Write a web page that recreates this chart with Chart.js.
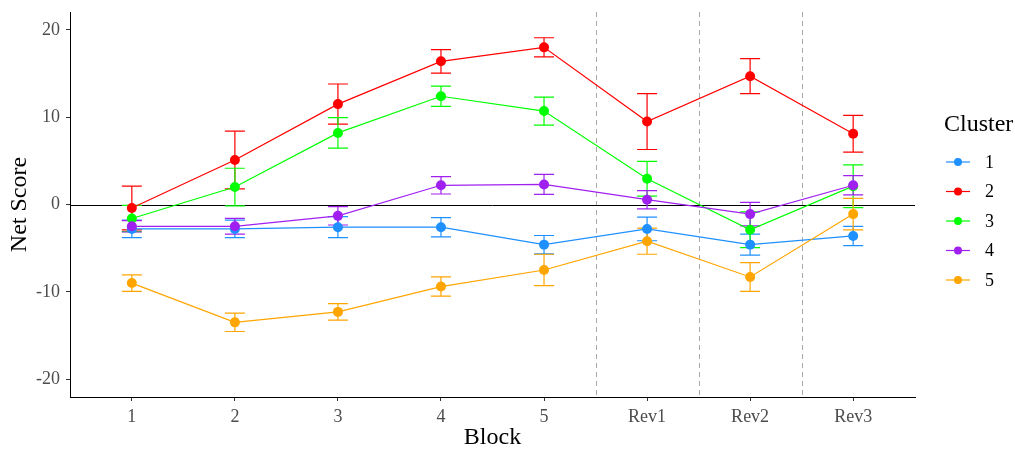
<!DOCTYPE html>
<html>
<head>
<meta charset="utf-8">
<script src="https://cdn.jsdelivr.net/npm/chart.js@4.4.0/dist/chart.umd.min.js"></script>
<style>
  html, body { margin: 0; padding: 0; background: #fff; }
  canvas { display: block; }
</style>
</head>
<body>
<canvas id="chart" width="1015" height="450"></canvas>
<script>
const categories = ['1', '2', '3', '4', '5', 'Rev1', 'Rev2', 'Rev3'];
const clusters = ['1', '2', '3', '4', '5'];
const clusterColors = ['#1E90FF', '#FF0000', '#00FF00', '#A020F0', '#FFA500'];
const yTicks = [-20, -10, 0, 10, 20];
const separators = [5.5, 6.5, 7.5];

// means and half-widths of the error bars, per cluster
const c1Mean = [-2.8, -2.8, -2.6, -2.6, -4.6, -2.8, -4.6, -3.6];
const c1Err  = [1.0, 1.0, 1.2, 1.1, 1.05, 1.35, 1.2, 1.1];
const c2Mean = [-0.4, 5.1, 11.5, 16.4, 18.0, 9.5, 14.7, 8.1];
const c2Err  = [2.5, 3.3, 2.3, 1.35, 1.1, 3.2, 2.0, 2.1];
const c3Mean = [-1.6, 2.0, 8.2, 12.4, 10.7, 2.95, -2.9, 2.1];
const c3Err  = [1.5, 2.15, 1.75, 1.15, 1.6, 2.0, 2.05, 2.45];
const c4Mean = [-2.5, -2.5, -1.3, 2.2, 2.3, 0.55, -1.1, 2.2];
const c4Err  = [0.65, 0.9, 1.05, 1.0, 1.15, 1.05, 1.35, 1.1];
const c5Mean = [-9.0, -13.5, -12.3, -9.4, -7.5, -4.2, -8.3, -1.1];
const c5Err  = [0.95, 1.05, 0.95, 1.1, 1.8, 1.5, 1.65, 1.8];

const means = [c1Mean, c2Mean, c3Mean, c4Mean, c5Mean];
const errs = [c1Err, c2Err, c3Err, c4Err, c5Err];

const serif = '"Liberation Serif", "Times New Roman", serif';

const datasets = clusters.map((name, i) => ({
  label: name,
  data: means[i].map((v, j) => ({ x: j + 1, y: v })),
  errors: errs[i],
  borderColor: clusterColors[i],
  backgroundColor: clusterColors[i],
  borderWidth: 1.2,
  pointRadius: 5,
  pointHoverRadius: 5,
  pointBorderWidth: 0,
  tension: 0,
  order: clusters.length - i
}));

const decorations = {
  id: 'decorations',
  beforeDatasetsDraw(chart) {
    const { ctx, chartArea, scales: { x, y } } = chart;
    ctx.save();
    // dashed separators
    ctx.strokeStyle = '#A8A8A8';
    ctx.lineWidth = 1;
    ctx.setLineDash([5, 4]);
    separators.forEach(s => {
      const px = Math.round(x.getPixelForValue(s)) + 0.5;
      ctx.beginPath();
      ctx.moveTo(px, chartArea.top);
      ctx.lineTo(px, chartArea.bottom);
      ctx.stroke();
    });
    ctx.setLineDash([]);
    // zero line
    const zy = Math.round(y.getPixelForValue(0)) + 0.5;
    ctx.strokeStyle = '#000';
    ctx.beginPath();
    ctx.moveTo(chartArea.left, zy);
    ctx.lineTo(chartArea.right, zy);
    ctx.stroke();
    // error bars
    chart.data.datasets.forEach(ds => {
      ctx.strokeStyle = ds.borderColor;
      ctx.lineWidth = 1.2;
      ds.data.forEach((pt, j) => {
        const px = x.getPixelForValue(pt.x);
        const lo = y.getPixelForValue(pt.y - ds.errors[j]);
        const hi = y.getPixelForValue(pt.y + ds.errors[j]);
        ctx.beginPath();
        ctx.moveTo(px, lo); ctx.lineTo(px, hi);
        ctx.moveTo(px - 10, lo); ctx.lineTo(px + 10, lo);
        ctx.moveTo(px - 10, hi); ctx.lineTo(px + 10, hi);
        ctx.stroke();
      });
    });
    ctx.restore();
  },
  afterDraw(chart) {
    const { ctx, chartArea } = chart;
    ctx.save();
    ctx.fillStyle = '#000';
    ctx.font = '24px ' + serif;
    ctx.textAlign = 'center';
    ctx.textBaseline = 'middle';
    ctx.fillText('Block', (chartArea.left + chartArea.right) / 2, 438);
    ctx.save();
    ctx.translate(20, (chartArea.top + chartArea.bottom) / 2);
    ctx.rotate(-Math.PI / 2);
    ctx.fillText('Net Score', 0, 0);
    ctx.restore();
    // legend
    ctx.textAlign = 'left';
    ctx.fillText('Cluster', 944, 125);
    ctx.font = '18px ' + serif;
    chart.data.datasets.forEach((ds, i) => {
      const ly = 162 + i * 29.5;
      ctx.strokeStyle = ds.borderColor;
      ctx.fillStyle = ds.borderColor;
      ctx.lineWidth = 1.2;
      ctx.beginPath();
      ctx.moveTo(946, ly); ctx.lineTo(970, ly);
      ctx.stroke();
      ctx.beginPath();
      ctx.arc(958, ly, 4, 0, Math.PI * 2);
      ctx.fill();
      ctx.fillStyle = '#000';
      ctx.fillText(ds.label, 985, ly + 1);
    });
    ctx.restore();
  }
};

new Chart(document.getElementById('chart'), {
  type: 'line',
  data: { datasets },
  options: {
    responsive: false,
    devicePixelRatio: 1,
    animation: false,
    layout: { padding: { top: 12, right: 100, left: 0, bottom: 0 } },
    plugins: { legend: { display: false }, tooltip: { enabled: false } },
    scales: {
      x: {
        type: 'linear',
        min: 0.4,
        max: 8.6,
        afterBuildTicks: s => { s.ticks = categories.map((c, i) => ({ value: i + 1 })); },
        afterFit: s => { s.height = 53; s.paddingLeft = 0; s.paddingRight = 0; },
        ticks: {
          autoSkip: false,
          maxRotation: 0,
          padding: 5,
          color: '#4D4D4D',
          font: { family: serif, size: 18 },
          callback: v => categories[v - 1]
        },
        grid: { drawOnChartArea: false, tickLength: 4, color: '#333', tickWidth: 1 },
        border: { display: true, color: '#000', width: 1 }
      },
      y: {
        min: -22.05,
        max: 22.05,
        afterBuildTicks: s => { s.ticks = yTicks.map(v => ({ value: v })); },
        afterFit: s => { s.width = 70; s.paddingTop = 0; s.paddingBottom = 0; },
        ticks: {
          padding: 6,
          color: '#4D4D4D',
          font: { family: serif, size: 18 }
        },
        grid: { drawOnChartArea: false, tickLength: 4, color: '#333', tickWidth: 1 },
        border: { display: true, color: '#000', width: 1 }
      }
    }
  },
  plugins: [decorations]
});
</script>
</body>
</html>
